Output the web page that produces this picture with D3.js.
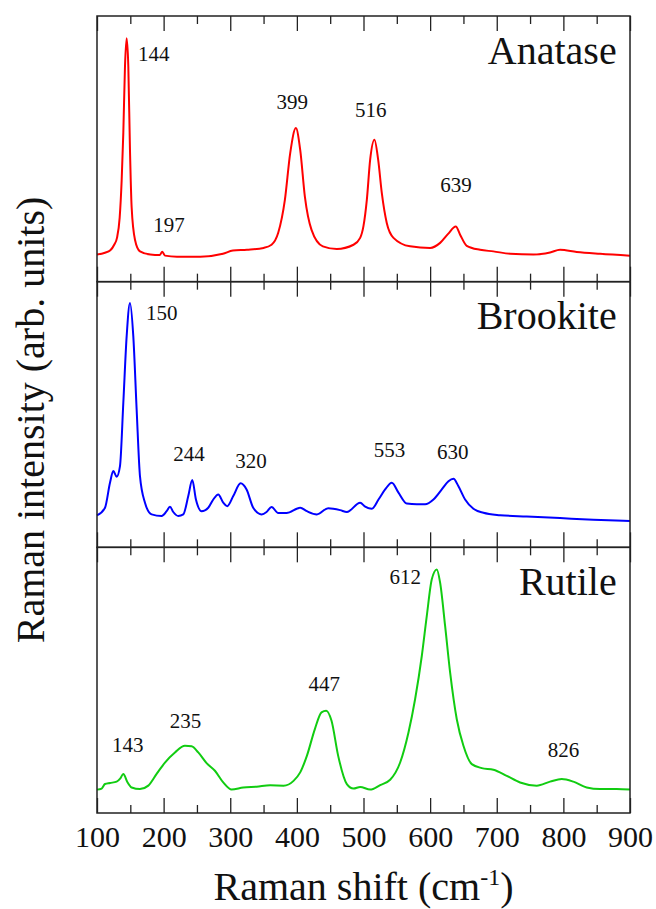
<!DOCTYPE html>
<html>
<head>
<meta charset="utf-8">
<script src="https://cdn.jsdelivr.net/npm/d3@7"></script>
<style>
  html, body { margin: 0; padding: 0; background: #fff; }
  svg { display: block; }
</style>
</head>
<body>
<svg id="chart" width="656" height="909"></svg>
<script>
// ---------------- data ----------------
const anataseX = [100,112,120,126,130,134,137,139.5,142,144.5,147,149.5,152,157,164.5,180,194,198,202,220,255,289,304,325,350,362,372,382,390,398.5,405,412,422,439,460,485,495,500,505,510,516.4,522,527.5,535,545,570,600,615,627,638.5,645,655,675,695,720,755,780,795,820,855,900];
const anataseY = [10.2,10.9,11.8,14,16.5,24,38,56,81,91.6,81,49.6,28,15.8,11.4,10.2,10,11.3,9.8,9.4,9.4,10.5,11.7,12,12.7,13.9,18.4,30.8,48.4,57.8,49.6,32,19.5,13.3,12.3,13.9,16.5,21,30.8,45.9,53.4,45.9,33.3,22,16.5,13.3,12.7,14.6,18,20.8,17.7,13.5,12,11.4,10.5,10.2,11,12,11.2,10.5,9.8];

const brookiteX = [100,112,119.5,124.5,129.5,134.5,139.5,144.5,149.5,154.5,159.5,164.5,172,182,197,204.5,209.5,214.5,222,229.5,237,243,248.5,257,267,274.5,282,289.5,295.5,304.5,315.5,324.5,334.5,347,354.5,362,372,384.5,405,415,430,447,465,475,495,502.5,512.5,522.5,532.5,542.5,552.5,565,580,592.5,605,617.5,627.5,635,642.5,652.5,665,680,705,745,795,845,900];
const brookiteY = [12,14.9,24.3,28.7,26.6,30.6,54.4,79.4,92,79.4,51.9,26.8,16.8,12.4,11.8,13.6,15.3,13.3,11.8,12.4,19.3,25.3,18,13.6,14.9,18,19.9,16.8,15.5,19.3,24.1,21.8,14.9,12.4,13.3,15.2,12.9,12.9,14.9,13.6,12.4,14.7,14,13.3,16.8,15.3,14.5,18,21.8,24.3,20.6,16.5,16.2,16.2,18,21.8,24.9,25.8,23,18,14.5,13,12.1,11.6,11,10.4,9.9];

const rutileX = [100,107,112,119.5,129.5,135,139.5,145.5,152,164.5,177,189.5,202,217,232,242,252,264.5,277,289.5,302,319.5,339.5,360,380,395,405,415,427,437,444,452,462,475,485,495,510,525,540,555,567.5,577.5,587.5,595,602.5,610,615,622.5,630,640,650,662.5,677.5,695,715,735,760,780,797.5,815,835,855,880,900];
const rutileY = [8.8,9.2,10.9,11.3,11.8,13,14.7,11.7,9.6,9,10.3,14.7,19,22.8,25.3,25.1,22.8,18.8,15.9,11.5,8.8,9.6,9.9,10.4,10.3,12.1,15.3,21.5,31.6,37.9,38.5,34.7,21.5,10.9,9.2,9.8,8.8,10.5,12.5,19,30.3,42.9,59.1,74.2,88,91.7,86.7,70.4,52.9,35.3,25.3,18.4,16.9,16.3,14,11.5,10.3,11.8,12.8,11.8,9.6,9,9,8.8];

const phaseNames = ["Anatase", "Brookite", "Rutile"];
const phaseColors = ["#ff0000", "#0000ff", "#11cc11"];

// peak labels: text, wavenumber (centre), intensity (baseline)
const anataseLabels  = ["144", "197", "399", "516", "639"];
const anataseLabelX  = [185, 208, 393, 511, 639];
const anataseLabelY  = [83, 18.8, 65, 62.1, 33.9];
const brookiteLabels = ["150", "244", "320", "553", "630"];
const brookiteLabelX = [197, 238, 331, 539, 634];
const brookiteLabelY = [85.7, 32.4, 29.7, 34.1, 33.3];
const rutileLabels   = ["143", "235", "447", "612", "826"];
const rutileLabelX   = [146, 233, 441, 562.5, 800];
const rutileLabelY   = [22.8, 32, 46, 86.1, 20.9];

const majorTicks = [100, 200, 300, 400, 500, 600, 700, 800, 900];
const minorTicks = [150, 250, 350, 450, 550, 650, 750, 850];
const xTitle = "Raman shift (cm";
const yTitle = "Raman intensity (arb. units)";

// ---------------- layout ----------------
const FONT = "Liberation Serif, DejaVu Serif, serif";
const svg = d3.select("#chart");
const mLeft = 97, mRight = 630, mTop = 16, mBottom = 813;
const panelH = (mBottom - mTop) / 3;
const x = d3.scaleLinear().domain([100, 900]).range([mLeft, mRight]);

const series = [
  {x: anataseX, y: anataseY, lx: anataseLabelX, ly: anataseLabelY, lt: anataseLabels},
  {x: brookiteX, y: brookiteY, lx: brookiteLabelX, ly: brookiteLabelY, lt: brookiteLabels},
  {x: rutileX, y: rutileY, lx: rutileLabelX, ly: rutileLabelY, lt: rutileLabels}
];

series.forEach((s, i) => {
  const pTop = mTop + i * panelH, pBot = pTop + panelH;
  const y = d3.scaleLinear().domain([0, 100]).range([pBot, pTop]);
  const g = svg.append("g");

  const pts = s.x.map((v, k) => [v, s.y[k]]);
  g.append("path")
    .datum(pts)
    .attr("fill", "none")
    .attr("stroke", phaseColors[i])
    .attr("stroke-width", 2)
    .attr("stroke-linejoin", "round")
    .attr("d", d3.line().x(d => x(d[0])).y(d => y(d[1])).curve(d3.curveMonotoneX));

  const tickStyle = sel => {
    sel.select(".domain").remove();
    sel.selectAll(".tick line").attr("stroke", "#222").attr("stroke-width", 1.3);
    sel.selectAll(".tick text").remove();
  };
  g.append("g").attr("transform", `translate(0,${pBot})`)
    .call(d3.axisTop(x).tickValues(majorTicks).tickSize(15)).call(tickStyle);
  g.append("g").attr("transform", `translate(0,${pBot})`)
    .call(d3.axisTop(x).tickValues(minorTicks).tickSize(8)).call(tickStyle);
  g.append("g").attr("transform", `translate(0,${pTop})`)
    .call(d3.axisBottom(x).tickValues(majorTicks).tickSize(15)).call(tickStyle);
  g.append("g").attr("transform", `translate(0,${pTop})`)
    .call(d3.axisBottom(x).tickValues(minorTicks).tickSize(8)).call(tickStyle);

  g.append("rect")
    .attr("x", mLeft).attr("y", pTop)
    .attr("width", mRight - mLeft).attr("height", panelH)
    .attr("fill", "none").attr("stroke", "#222").attr("stroke-width", 1.5);

  g.selectAll("text.peak")
    .data(s.lt)
    .join("text")
    .attr("class", "peak")
    .attr("x", (d, k) => x(s.lx[k]))
    .attr("y", (d, k) => y(s.ly[k]))
    .attr("text-anchor", "middle")
    .attr("font-family", FONT)
    .attr("font-size", 21)
    .attr("fill", "#111")
    .text(d => d);

  g.append("text")
    .attr("x", x(880))
    .attr("y", y(82))
    .attr("text-anchor", "end")
    .attr("font-family", FONT)
    .attr("font-size", 40)
    .attr("fill", "#111")
    .text(phaseNames[i]);
});

const xAxisLabels = svg.append("g").attr("transform", `translate(0,${mBottom})`)
  .call(d3.axisBottom(x).tickValues(majorTicks).tickSize(0).tickFormat(d3.format("d")));
xAxisLabels.select(".domain").remove();
xAxisLabels.attr("font-family", null).attr("font-size", null);
xAxisLabels.selectAll(".tick text")
  .attr("dy", null).attr("y", 34)
  .attr("font-size", 30)
  .attr("font-family", FONT)
  .attr("fill", "#111");

const xt = svg.append("text")
  .attr("x", (mLeft + mRight) / 2)
  .attr("y", 900)
  .attr("text-anchor", "middle")
  .attr("font-family", FONT)
  .attr("font-size", 40)
  .attr("fill", "#111");
xt.append("tspan").text(xTitle);
xt.append("tspan").attr("font-size", 24).attr("dy", -15).text("-1");
xt.append("tspan").attr("dy", 15).text(")");

svg.append("text")
  .attr("transform", `translate(44,420) rotate(-90)`)
  .attr("text-anchor", "middle")
  .attr("font-family", FONT)
  .attr("font-size", 40)
  .attr("fill", "#111")
  .text(yTitle);
</script>
</body>
</html>
